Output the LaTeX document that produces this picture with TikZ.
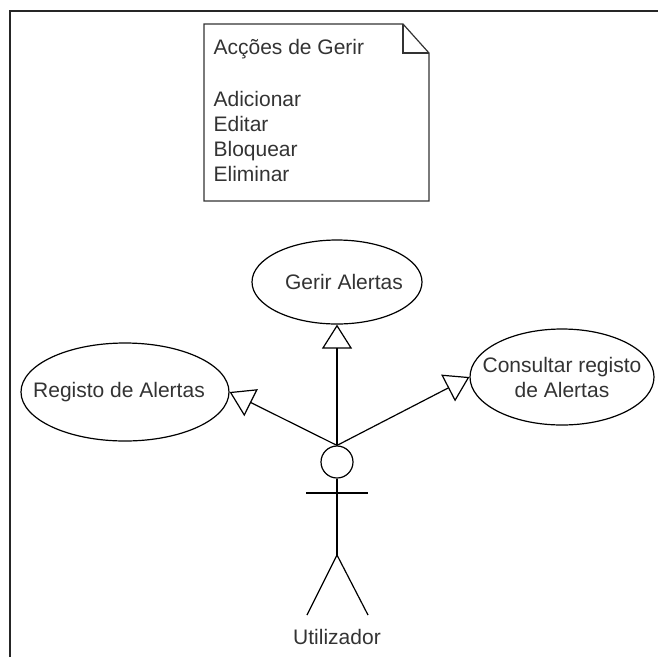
\documentclass[tikz,border=0pt]{standalone}
\usepackage{fontspec}
\setmainfont{Liberation Sans}
\usetikzlibrary{shapes.geometric,arrows.meta}
\begin{document}
\begin{tikzpicture}[x=1pt,y=-1pt,
  line width=1.2pt,
  txt/.style={inner sep=0pt,text=black!80,font=\fontsize{21}{25}\selectfont},
  usecase/.style={draw,ellipse,inner sep=0pt},
  gen/.style={-{Triangle[open,length=24pt,width=30pt]}},
]
\useasboundingbox (0,0) rectangle (658,657);
% outer frame (only left and top edges fall inside the page)
\draw[line width=2pt,black!85] (9.5,657) -- (9.5,10.5) -- (658,10.5);

% note with folded corner
\draw[black!80] (204,24) -- (403,24) -- (429,53) -- (429,201) -- (204,201) -- cycle;
\draw[black!80] (403,24) -- (403,53) -- (429,53);
\node[txt,anchor=base west] (n1) at (213,54) {Acções de Gerir};
\node[txt,anchor=base west] (n2) at (213,106) {Adicionar};
\node[txt,anchor=base west] (n3) at (213,131) {Editar};
\node[txt,anchor=base west] (n4) at (213,156) {Bloquear};
\node[txt,anchor=base west] (n5) at (213,181) {Eliminar};

% use cases
\node[usecase,minimum width=170pt,minimum height=84pt] (gerir) at (337,282) {};
\node[txt] (gerirT) at ([xshift=7]gerir.center) {Gerir Alertas};
\node[usecase,minimum width=208pt,minimum height=98pt] (registo) at (125,392) {};
\node[txt] (registoT) at ([xshift=-6]registo.center) {Registo de Alertas};
\node[usecase,minimum width=184pt,minimum height=96pt] (consultar) at (562,377) {};
\node[txt,align=center] (consultarT) at (consultar.center) {Consultar registo\\de Alertas};

% actor
\node[draw,circle,inner sep=0pt,minimum size=32pt] (head) at (337,462) {};
\coordinate (hip) at (337,555);
\coordinate (armL) at (306,493);
\coordinate (armR) at (368,493);
\coordinate (footL) at (307,615);
\coordinate (footR) at (368,615);
\draw (head.south) -- (hip);
\draw (armL) -- (armR);
\draw (footL) -- (hip) -- (footR);
\node[txt] (actor) at (337,637) {Utilizador};

% generalisation connectors
\draw[gen] (head.north) -- (gerir.south);
\draw[gen] (head.north) -- (registo.east);
\draw[gen] (head.north) -- (consultar.west);
\end{tikzpicture}
\end{document}
